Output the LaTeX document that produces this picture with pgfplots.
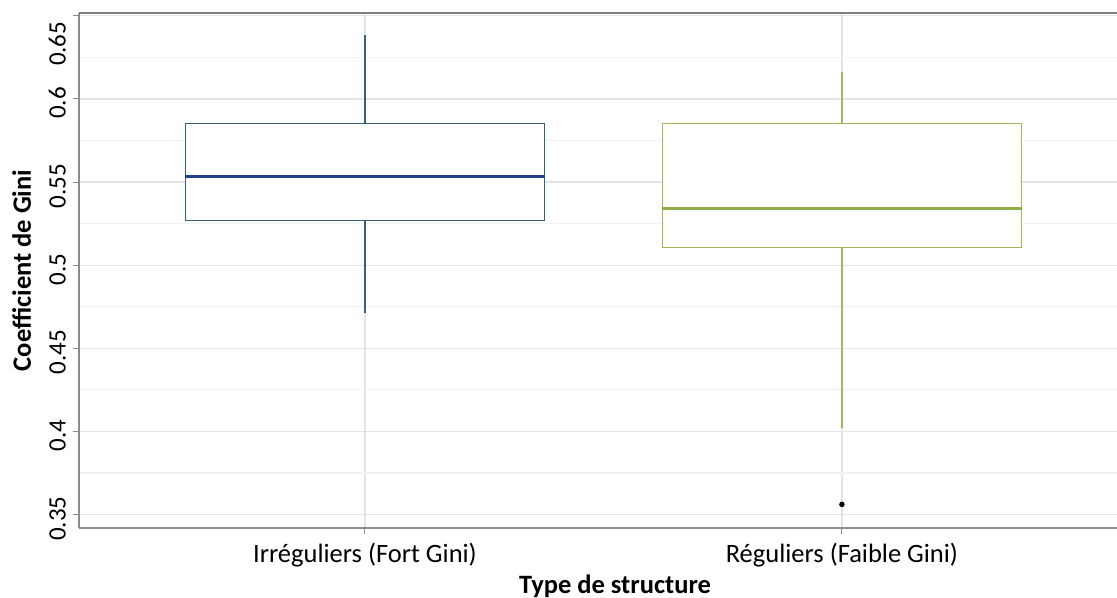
\documentclass[border=0pt]{standalone}
\usepackage{fontspec}
\setmainfont{Carlito}
\usepackage{pgfplots}
\pgfplotsset{compat=1.18}
\usepgfplotslibrary{statistics}
\definecolor{boxA}{HTML}{35607A}
\definecolor{medA}{HTML}{1F4088}
\definecolor{boxB}{HTML}{A3B65A}
\definecolor{medB}{HTML}{8FAE45}
\definecolor{gridmaj}{HTML}{E4E4E4}
\definecolor{gridmin}{HTML}{F2F2F2}
\definecolor{axline}{HTML}{8C8C8C}
\begin{document}
\begin{tikzpicture}
\begin{axis}[
  name=ax,
  scale only axis,
  width=536pt, height=257.5pt,
  xmin=0.4004, xmax=2.648,
  ymin=0.3419, ymax=0.6517,
  xtick={1,2},
  xticklabels={Irréguliers (Fort Gini), Réguliers (Faible Gini)},
  ytick={0.35,0.4,0.45,0.5,0.55,0.6,0.65},
  minor ytick={0.375,0.425,0.475,0.525,0.575,0.625},
  yticklabels={0.35,0.4,0.45,0.5,0.55,0.6,0.65\hspace*{24pt}},
  tick align=outside,
  major tick length=3pt,
  minor tick length=0pt,
  tick style={draw=axline, line width=0.5pt},
  xtick pos=bottom, ytick pos=left,
  grid=both,
  major grid style={draw=gridmaj, line width=0.6pt},
  minor grid style={draw=gridmin, line width=0.6pt},
  axis line style={draw=none},
  /pgf/number format/assume math mode=true,
  x tick label style={font=\fontsize{13.25pt}{16pt}\selectfont, yshift=-1pt},
  y tick label style={font=\fontsize{12.5pt}{15pt}\selectfont, rotate=90, anchor=south, xshift=-2pt},
  xlabel={\textbf{Type de structure}},
  ylabel={\textbf{Coefficient de Gini}},
  label style={font=\fontsize{13.25pt}{16pt}\selectfont},
  xlabel style={yshift=3pt},
  ylabel style={yshift=2pt},
  boxplot/draw direction=y,
  clip=false,
]
\draw[axline, line width=0.6pt] (rel axis cs:0,0) -- (rel axis cs:0,1);
\draw[axline, line width=0.6pt] (rel axis cs:0,0) -- (rel axis cs:1,0);
\draw[axline!90!black, line width=0.7pt] (rel axis cs:0,1) -- (rel axis cs:1,1);
\addplot[boxA, line width=0.7pt, fill=white,
  boxplot prepared={lower whisker=0.4711, lower quartile=0.5268, median=0.5533,
    upper quartile=0.5854, upper whisker=0.6385, draw position=1,
    box extend=0.753, whisker extend=0,
    every median/.style={draw=medA, line width=1.4pt}}]
  coordinates {};
\addplot[boxB, line width=0.7pt, fill=white, mark=*, mark size=1pt,
  mark options={draw=black, fill=black},
  boxplot prepared={lower whisker=0.4018, lower quartile=0.5105, median=0.5342,
    upper quartile=0.5854, upper whisker=0.6164, draw position=2,
    box extend=0.753, whisker extend=0,
    every median/.style={draw=medB, line width=1.4pt}}]
  table[row sep=\\, y index=0] {0.3561\\};
\end{axis}
\pgfresetboundingbox
\path[use as bounding box] ([xshift=-39.5pt, yshift=-35pt]ax.south west) rectangle ([xshift=519pt, yshift=264pt]ax.south west);
\end{tikzpicture}
\end{document}
